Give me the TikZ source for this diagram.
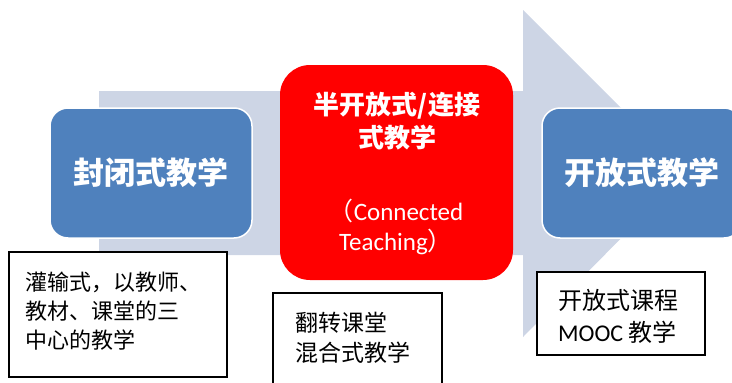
\documentclass[tikz,border=0pt]{standalone}
\usepackage{fontspec}
\newfontfamily\cjk{Noto Sans CJK SC}
\newfontfamily\lat{Carlito}
\definecolor{arrowgrey}{HTML}{CDD5E5}
\definecolor{boxblue}{HTML}{4F81BD}
\definecolor{boxred}{HTML}{FF0000}
\begin{document}
\begin{tikzpicture}[x=1pt,y=-1pt,
  bluebox/.style={fill=boxblue, draw=white, line width=1.5pt, rounded corners=18pt, text=white,
    font=\cjk\bfseries\fontsize{31}{34}\selectfont, inner sep=0pt},
  redbox/.style={fill=boxred, draw=none, rounded corners=30pt, inner sep=0pt},
  redtext/.style={text=white, align=center, inner sep=0pt},
  notebox/.style={fill=white, draw=black, line width=1.8pt, inner sep=0pt},
  notetext/.style={align=left, anchor=west, inner sep=0pt}
]
\useasboundingbox (0,0) rectangle (732,383);
% big background arrow
\fill[arrowgrey] (99,91) -- (523,91) -- (523,10) -- (686,173) -- (523,337) -- (523,255) -- (99,255) -- cycle;
% blue boxes
\node[bluebox, minimum width=202pt, minimum height=130pt] (closed) at (151,173) {封闭式教学};
\node[bluebox, minimum width=200pt, minimum height=130pt] (open) at (642,173) {开放式教学};
% red box
\node[redbox, minimum width=233pt, minimum height=215pt] (semi) at (396.5,172.5) {};
\node[redtext, font=\cjk\bfseries\fontsize{26}{33}\selectfont] (semititle) at (397,121) {半开放式/连接\\式教学};
\node[redtext, font=\lat\fontsize{25}{30}\selectfont] (semisub) at (396,227) {{\cjk （}Connected\\Teaching{\cjk ）}};
% note boxes
\node[notebox, minimum width=218pt, minimum height=125pt] (noteL) at (118,314.5) {};
\node[notetext, font=\cjk\fontsize{22}{29}\selectfont] (noteLtext) at (25,311) {灌输式，以教师、\\教材、课堂的三\\中心的教学};
\node[notebox, minimum width=169pt, minimum height=110pt] (noteM) at (357.5,348) {};
\node[notetext, font=\cjk\fontsize{23}{30}\selectfont] (noteMtext) at (295,338) {翻转课堂\\混合式教学};
\node[notebox, minimum width=168pt, minimum height=83pt] (noteR) at (621,313.5) {};
\node[notetext, font=\cjk\fontsize{24}{32}\selectfont] (noteRtext) at (558,316) {开放式课程\\{\lat MOOC} 教学};
\end{tikzpicture}
\end{document}
